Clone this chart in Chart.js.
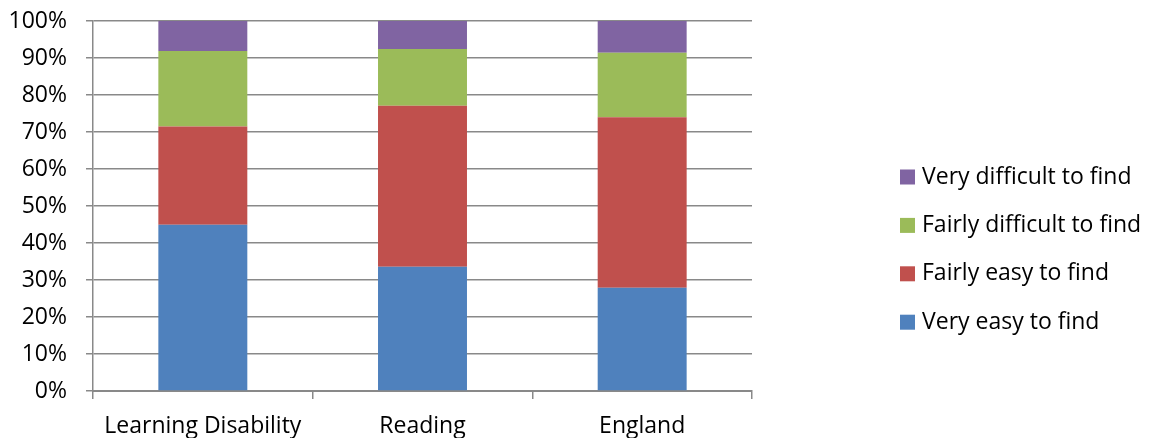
<!DOCTYPE html>
<html>
<head>
<meta charset="utf-8">
<style>
  html, body { margin: 0; padding: 0; background: #ffffff; }
  #wrap { width: 1153px; height: 438px; position: relative; }
</style>
<script src="https://cdn.jsdelivr.net/npm/chart.js@4/dist/chart.umd.min.js"></script>
</head>
<body>
<div id="wrap"><canvas id="chart" width="1153" height="438"></canvas></div>
<script>
// Areas compared
const categories = ['Learning Disability', 'Reading', 'England'];

// Share of respondents (%) per answer, stacked bottom to top
const veryEasy        = [44.9, 33.6, 27.9];
const fairlyEasy      = [26.6, 43.5, 46.1];
const fairlyDifficult = [20.4, 15.3, 17.4];
const veryDifficult   = [8.1, 7.6, 8.6];

const seriesNames = ['Very easy to find', 'Fairly easy to find', 'Fairly difficult to find', 'Very difficult to find'];
const seriesColors = ['#4F81BD', '#C0504D', '#9BBB59', '#8064A2'];

const FONT = '"Open Sans", sans-serif';
const FONT_SIZE = 23;
const GRID = '#898989';

// Legend drawn at the right, listing the top series first
const sideLegend = {
  id: 'sideLegend',
  afterDraw(chart) {
    const ctx = chart.ctx;
    const ds = chart.data.datasets;
    const x = 900, firstY = 177, step = 48.4, box = 15;
    ctx.save();
    ctx.font = FONT_SIZE + 'px ' + FONT;
    ctx.textBaseline = 'middle';
    ctx.textAlign = 'left';
    for (let i = ds.length - 1, row = 0; i >= 0; i--, row++) {
      const cy = firstY + row * step;
      ctx.fillStyle = ds[i].backgroundColor;
      ctx.fillRect(x, cy - box / 2, box, box);
      ctx.fillStyle = '#000000';
      ctx.fillText(ds[i].label, x + box + 7, cy);
    }
    ctx.restore();
  }
};

const values = [veryEasy, fairlyEasy, fairlyDifficult, veryDifficult];

new Chart(document.getElementById('chart'), {
  type: 'bar',
  data: {
    labels: categories,
    datasets: values.map((v, i) => ({
      label: seriesNames[i],
      data: v,
      backgroundColor: seriesColors[i],
      borderWidth: 0,
      categoryPercentage: 1,
      barPercentage: 0.405
    }))
  },
  options: {
    responsive: false,
    animation: false,
    devicePixelRatio: 1,
    layout: { padding: { top: 21, right: 401, left: 0, bottom: 0 } },
    plugins: {
      legend: { display: false },
      title: { display: false },
      tooltip: { enabled: false }
    },
    scales: {
      x: {
        stacked: true,
        afterFit(scale) { scale.height = 47; },
        grid: {
          offset: true,
          drawOnChartArea: false,
          drawTicks: true,
          tickLength: 8,
          color: GRID,
          lineWidth: 1.5
        },
        border: { display: true, color: GRID, width: 2 },
        ticks: {
          color: '#000000',
          font: { family: FONT, size: FONT_SIZE },
          padding: 14,
          maxRotation: 0
        }
      },
      y: {
        stacked: true,
        min: 0,
        max: 100,
        afterFit(scale) {
          scale.width = 93;
          scale.paddingTop = 0;
          scale.paddingBottom = 0;
        },
        grid: {
          color: GRID,
          lineWidth: 1.5,
          drawTicks: true,
          tickLength: 7
        },
        border: { display: true, color: GRID, width: 1.5 },
        ticks: {
          stepSize: 10,
          color: '#000000',
          font: { family: FONT, size: FONT_SIZE },
          padding: 19,
          callback: v => v + '%'
        }
      }
    }
  },
  plugins: [sideLegend]
});
</script>
</body>
</html>
